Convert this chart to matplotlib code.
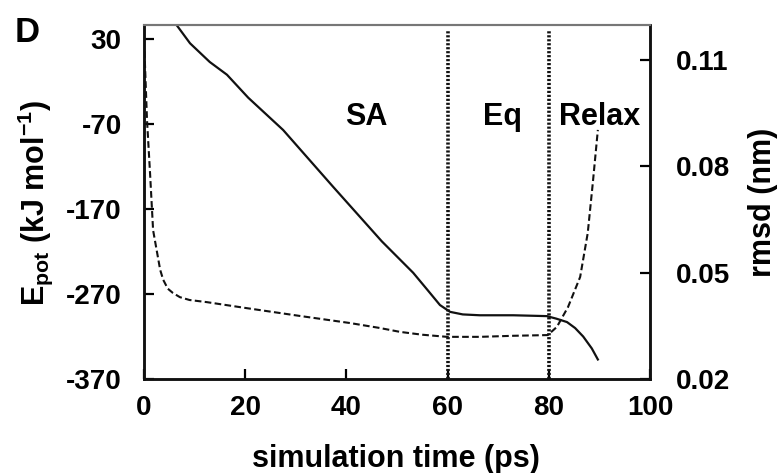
import matplotlib
matplotlib.use("Agg")
import matplotlib.pyplot as plt

plt.rcParams['font.family'] = ['Liberation Sans', 'DejaVu Sans']
plt.rcParams['font.weight'] = 'bold'
plt.rcParams['mathtext.fontset'] = 'custom'
plt.rcParams['mathtext.rm'] = 'Liberation Sans:bold'
plt.rcParams['mathtext.bf'] = 'Liberation Sans:bold'
plt.rcParams['mathtext.it'] = 'Liberation Sans:bold'
plt.rcParams['mathtext.default'] = 'regular'

# potential energy (left axis)
time_e = [5.5, 6.5, 9.1, 13.0, 16.4, 20.6, 27.5, 37.4, 47.0, 53.2, 56.0, 58.5,
          60.5, 63.0, 66.4, 73.0, 79.6, 81.5, 83.6, 85.2, 86.8, 88.5, 89.7]
epot = [52, 46, 25, 3, -12, -39, -77, -144, -208, -245, -265, -283,
        -291, -294, -295, -295, -296, -299, -303, -310, -320, -334, -347]

# rmsd (right axis)
time_r = [0.1, 0.6, 1.2, 1.8, 2.6, 3.2, 3.8, 4.7, 5.7, 7.1, 9.0, 12.4, 20.3,
          30.8, 40.7, 46.6, 50.6, 55.0, 59.9, 66.4, 73.0, 79.8, 81.6, 83.8,
          86.2, 87.7, 88.7, 89.7]
rmsd = [0.1125, 0.093, 0.078, 0.062, 0.0556, 0.0508, 0.048, 0.0455, 0.0443,
        0.0431, 0.0423, 0.0417, 0.040, 0.0378, 0.0358, 0.0344, 0.0333, 0.0325,
        0.0319, 0.0319, 0.0322, 0.0324, 0.0347, 0.0403, 0.0488, 0.0612,
        0.0753, 0.0903]

phase_bounds = [60, 80]
phase_names = ['SA', 'Eq', 'Relax']
phase_x = [43.9, 70.8, 90.1]

xticks = [0, 20, 40, 60, 80, 100]
eticks = [-370, -270, -170, -70, 30]
rticks = [0.02, 0.05, 0.08, 0.11]
rtick_labels = ['0.02', '0.05', '0.08', '0.11']

fig = plt.figure(figsize=(7.8, 4.73), dpi=100)
ax = fig.add_axes([0.1846, 0.1987, 0.6487, 0.7484])
ax2 = ax.twinx()

ax.plot(time_e, epot, color='#111111', lw=1.6)
ax2.plot(time_r, rmsd, color='#111111', lw=1.5, dashes=(3.2, 1.6))

for b in phase_bounds:
    ax.axvline(b, ymin=0, ymax=0.986, color='#111111', lw=2.6, ls=(0, (0.6, 0.5)))

for name, xpos in zip(phase_names, phase_x):
    ax.text(xpos, -71, name, ha='center', va='baseline', fontsize=22)

ax.set_xlim(0, 100)
ax.set_ylim(-370, 46.5)
ax2.set_ylim(0.02, 0.1199)

ax.set_xticks(xticks)
ax.set_xticklabels([str(t) for t in xticks])
ax.set_yticks(eticks)
ax.set_yticklabels([str(t) for t in eticks])
ax2.set_yticks(rticks)
ax2.set_yticklabels(rtick_labels)

ax.tick_params(axis='x', direction='in', length=7, width=1.6, pad=11.5, labelsize=20)
ax.tick_params(axis='y', direction='in', length=7, width=1.6, pad=16, labelsize=20)
ax2.tick_params(axis='y', direction='in', length=7, width=1.6, pad=19, labelsize=20)

for a in (ax, ax2):
    for s in a.spines.values():
        s.set_linewidth(1.8)
        s.set_color('#111111')
    a.spines['top'].set_color('#777777')
    a.spines['top'].set_linewidth(1.5)

fig.text(35 / 780, 0.571, r'E$_{pot}$ (kJ mol$^{-1}$)', rotation=90,
         ha='center', va='center', fontsize=22)
fig.text(0.978, 0.573, 'rmsd (nm)', rotation=90, ha='center', va='center', fontsize=22)
fig.text(0.508, 1 - 467 / 473, 'simulation time (ps)', ha='center', va='baseline', fontsize=22)
fig.text(15 / 780, 1 - 42 / 473, 'D', ha='left', va='baseline', fontsize=25)

fig.savefig('out.png', dpi=100)
